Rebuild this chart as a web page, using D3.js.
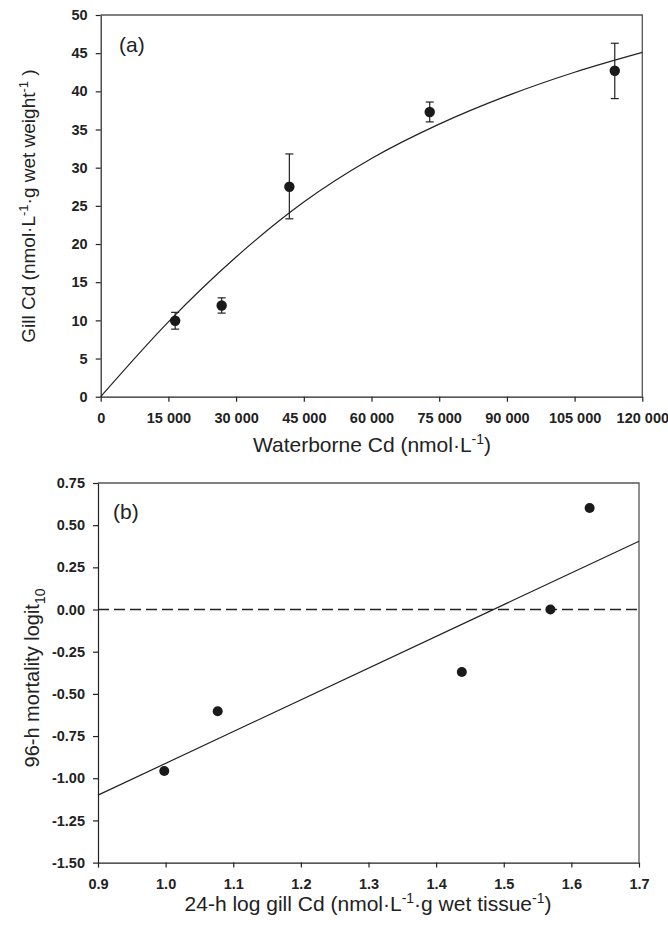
<!DOCTYPE html>
<html>
<head>
<meta charset="utf-8">
<script src="https://cdn.jsdelivr.net/npm/d3@7"></script>
<style>
  body { margin: 0; background: #fff; }
  svg { display: block; font-family: "Liberation Sans", Arial, sans-serif; }
  .tick text { font-weight: bold; font-size: 14.5px; fill: #222; }
  .title { font-size: 21px; fill: #222; }
</style>
</head>
<body>
<svg id="chart" width="668" height="925"></svg>
<script>
// panel (a): gill Cd vs waterborne Cd
const waterCd = [16500, 26800, 41800, 72900, 113900];
const gillCd = [9.95, 11.95, 27.5, 37.3, 42.7];
const gillLow = [8.85, 10.95, 23.3, 36.0, 39.05];
const gillHigh = [11.05, 12.95, 31.8, 38.6, 46.3];
// fitted curve
const fitX = [0, 15000, 30000, 45000, 60000, 75000, 90000, 105000, 120000];
const fitY = [0, 9.8, 18.3, 25.5, 31.2, 35.7, 39.4, 42.5, 45.1];
const xTicksA = [0, 15000, 30000, 45000, 60000, 75000, 90000, 105000, 120000];
const yTicksA = [0, 5, 10, 15, 20, 25, 30, 35, 40, 45, 50];

// panel (b): mortality logit vs log gill Cd
const logGill = [0.998, 1.077, 1.438, 1.569, 1.627];
const logit = [-0.957, -0.603, -0.370, 0.0, 0.602];
const regX = [0.9, 1.7];
const regY = [-1.10, 0.405];
const xTicksB = [0.9, 1.0, 1.1, 1.2, 1.3, 1.4, 1.5, 1.6, 1.7];
const yTicksB = [-1.5, -1.25, -1.0, -0.75, -0.5, -0.25, 0, 0.25, 0.5, 0.75];

const svg = d3.select("#chart");
const spaceFmt = d3.formatLocale({ decimal: ".", thousands: " ", grouping: [3], currency: ["", ""] }).format(",");
const hyphen = (f) => (d) => f(d).replace("\u2212", "-");

function frame(x, y) {
  // top + right edges of the box, grey
  svg.append("path")
    .attr("d", "M" + x.range()[0] + "," + y.range()[1] + "H" + x.range()[1] + "V" + y.range()[0])
    .attr("fill", "none")
    .attr("stroke", "#555")
    .attr("stroke-width", 1.3);
}

function axes(x, y, xTicks, yTicks, xFmt, yFmt) {
  let gx = svg.append("g")
    .attr("transform", "translate(0," + y.range()[0] + ")")
    .call(d3.axisBottom(x).tickValues(xTicks).tickFormat(xFmt).tickSize(5).tickPadding(11).tickSizeOuter(0));
  let gy = svg.append("g")
    .attr("transform", "translate(" + x.range()[0] + ",0)")
    .call(d3.axisLeft(y).tickValues(yTicks).tickFormat(yFmt).tickSize(5).tickPadding(8).tickSizeOuter(0));
  [gx, gy].forEach(g => {
    g.select(".domain").attr("stroke", "#222").attr("stroke-width", 1.2);
    g.selectAll(".tick line").attr("stroke", "#222").attr("stroke-width", 1.2);
    g.selectAll(".tick text").attr("font-family", null).attr("font-size", null);
  });
}

// ---- panel (a)
const xA = d3.scaleLinear().domain([0, 120000]).range([100.7, 642.3]);
const yA = d3.scaleLinear().domain([0, 50]).range([396.7, 15]);

frame(xA, yA);
axes(xA, yA, xTicksA, yTicksA, spaceFmt, d3.format("d"));

svg.append("path")
  .datum(fitX.map((d, i) => [d, fitY[i]]))
  .attr("d", d3.line().x(d => xA(d[0])).y(d => yA(d[1])).curve(d3.curveMonotoneX))
  .attr("fill", "none")
  .attr("stroke", "#222")
  .attr("stroke-width", 1.2);

let bars = svg.append("g").attr("stroke", "#222").attr("stroke-width", 1.2);
waterCd.forEach((d, i) => {
  bars.append("line").attr("x1", xA(d)).attr("x2", xA(d)).attr("y1", yA(gillLow[i])).attr("y2", yA(gillHigh[i]));
  [gillLow[i], gillHigh[i]].forEach(v => {
    bars.append("line").attr("x1", xA(d) - 4).attr("x2", xA(d) + 4).attr("y1", yA(v)).attr("y2", yA(v));
  });
});

svg.append("g").selectAll("circle")
  .data(waterCd)
  .enter().append("circle")
    .attr("cx", d => xA(d))
    .attr("cy", (d, i) => yA(gillCd[i]))
    .attr("r", 5.2)
    .attr("fill", "#1a1a1a");

svg.append("text").attr("class", "title").attr("x", 119).attr("y", 52).text("(a)");

let tA = svg.append("text").attr("class", "title")
  .attr("x", 372).attr("y", 452)
  .style("text-anchor", "middle");
tA.append("tspan").text("Waterborne Cd (nmol\u00B7L");
tA.append("tspan").attr("dy", -8).attr("font-size", 14).text("-1");
tA.append("tspan").attr("dy", 8).text(")");

let yTA = svg.append("text").attr("class", "title")
  .attr("transform", "translate(35,206) rotate(-90)")
  .style("text-anchor", "middle")
  .style("font-size", "19px");
yTA.append("tspan").text("Gill Cd (nmol\u00B7L");
yTA.append("tspan").attr("dy", -7).attr("font-size", 13).text("-1");
yTA.append("tspan").attr("dy", 7).text("\u00B7g wet weight");
yTA.append("tspan").attr("dy", -7).attr("font-size", 13).text("-1");
yTA.append("tspan").attr("dy", 7).text(" )");

// ---- panel (b)
const xB = d3.scaleLinear().domain([0.9, 1.7]).range([98, 639]);
const yB = d3.scaleLinear().domain([-1.5, 0.75]).range([862.6, 483]);

frame(xB, yB);
axes(xB, yB, xTicksB, yTicksB, d3.format(".1f"), hyphen(d3.format(".2f")));

svg.append("line")
  .attr("x1", xB(0.9)).attr("x2", xB(1.7))
  .attr("y1", yB(0)).attr("y2", yB(0))
  .attr("stroke", "#222")
  .attr("stroke-width", 1.5)
  .attr("stroke-dasharray", "11,5");

svg.append("path")
  .datum(regX.map((d, i) => [d, regY[i]]))
  .attr("d", d3.line().x(d => xB(d[0])).y(d => yB(d[1])))
  .attr("fill", "none")
  .attr("stroke", "#222")
  .attr("stroke-width", 1.2);

svg.append("g").selectAll("circle")
  .data(logGill)
  .enter().append("circle")
    .attr("cx", d => xB(d))
    .attr("cy", (d, i) => yB(logit[i]))
    .attr("r", 5)
    .attr("fill", "#1a1a1a");

svg.append("text").attr("class", "title").attr("x", 113).attr("y", 519).text("(b)");

let tB = svg.append("text").attr("class", "title")
  .attr("x", 368).attr("y", 911)
  .style("text-anchor", "middle");
tB.append("tspan").text("24-h log gill Cd (nmol\u00B7L");
tB.append("tspan").attr("dy", -8).attr("font-size", 14).text("-1");
tB.append("tspan").attr("dy", 8).text("\u00B7g wet tissue");
tB.append("tspan").attr("dy", -8).attr("font-size", 14).text("-1");
tB.append("tspan").attr("dy", 8).text(")");

let yTB = svg.append("text").attr("class", "title")
  .attr("transform", "translate(39,678) rotate(-90)")
  .style("text-anchor", "middle")
  .style("font-size", "20px");
yTB.append("tspan").text("96-h mortality logit");
yTB.append("tspan").attr("dy", 6).attr("font-size", 14).text("10");
</script>
</body>
</html>
